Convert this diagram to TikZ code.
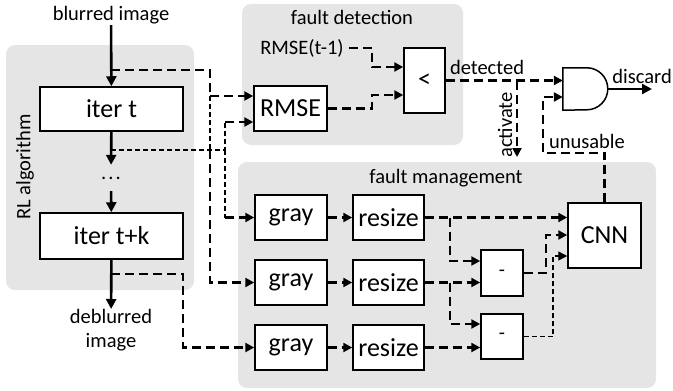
\documentclass[tikz,border=0pt]{standalone}
\usepackage{fontspec}
\setmainfont{Carlito}
\usetikzlibrary{arrows.meta}
\begin{document}
\begin{tikzpicture}[x=1pt,y=-1pt,
  panel/.style={fill=black!10, rounded corners=9pt},
  blk/.style={draw, line width=1.5pt, fill=white, inner sep=0pt,
    font=\fontsize{26}{30}\selectfont},
  lbl/.style={inner sep=1pt, font=\fontsize{20.5}{24}\selectfont},
  sarr/.style={line width=2.6pt, -{Triangle[length=10pt,width=10pt]}},
  dl/.style={line width=2.8pt, dash pattern=on 9pt off 5pt},
  da/.style={dl, -{Triangle[length=9pt,width=9pt]}},
  dthin/.style={line width=1.3pt, dash pattern=on 5pt off 3pt},
]
\useasboundingbox (0,0) rectangle (673,391);

% group panels
\fill[panel] (6,45) rectangle (194,290);
\fill[panel] (242,4) rectangle (463,145);
\fill[panel] (238,162) rectangle (656,388);

\node[lbl, rotate=90] (rl) at (25,167) {RL algorithm};
\node[lbl] (fd) at (352,17) {fault detection};
\node[lbl] (fm) at (446,178) {fault management};

% RL algorithm chain
\node[lbl] (blurred) at (111,15) {blurred image};
\node[blk, minimum width=143pt, minimum height=44pt] (itert) at (111.5,109) {iter t};
\node[lbl, minimum height=26pt, inner sep=0pt] (dots) at (111,178) {.\hspace{2pt}.\hspace{2pt}.};
\node[blk, minimum width=143pt, minimum height=46pt] (itertk) at (111.5,236) {iter t+k};
\node[lbl, align=center, anchor=north, inner sep=0pt] (deblurred) at (111,309) {deblurred\\image};

\draw[sarr] (blurred) -- (itert);
\draw[sarr] (itert) -- (dots);
\draw[sarr] (dots) -- (itertk);
\draw[sarr] (itertk) -- (deblurred);

% fault detection
\node[lbl, inner sep=5pt] (rmsep) at (302,48) {RMSE(t-1)};
\node[blk, minimum width=73pt, minimum height=45pt] (rmse) at (290.5,108.5) {RMSE};
\node[blk, minimum width=41pt, minimum height=65pt] (lt) at (424.5,80.5) {<};

\node[minimum width=45pt, minimum height=42pt, inner sep=0pt] (gate) at (585.5,89) {};
\draw[line width=1.5pt, fill=white] (gate.north west) -- ++(24,0)
  arc[start angle=90, end angle=-90, radius=21pt] -- (gate.south west) -- cycle;

\node[lbl] (detected) at (487,67) {detected};
\node[lbl, rotate=90] (activate) at (505,125) {activate};
\node[lbl, anchor=east, inner sep=0pt] (discard) at (672,76) {discard};
\node[lbl] (unusable) at (587,141) {unusable};

% fault management
\foreach \i/\y in {1/217.5, 2/282.5, 3/347.5} {
  \node[blk, minimum width=72pt, minimum height=45pt] (gray\i) at (291,\y) {gray};
  \node[blk, minimum width=71pt, minimum height=45pt] (resize\i) at (388.5,\y) {resize};
  \draw[da] (gray\i) -- (resize\i);
}
\node[blk, minimum width=42pt, minimum height=46pt, font=\fontsize{20}{24}\selectfont] (minus1) at (502,273) {-};
\node[blk, minimum width=42pt, minimum height=45pt, font=\fontsize{20}{24}\selectfont] (minus2) at (502,336.5) {-};
\node[blk, minimum width=73pt, minimum height=65pt] (cnn) at (604.5,235.5) {CNN};

% taps on the RL chain and free ends
\coordinate (a0) at (111,70);
\coordinate (b0) at (111,150);
\coordinate (c0) at (111,274);
\coordinate (det) at (517,80.5);
\coordinate (act) at (517,157);
\coordinate (out) at (652,89);

% input image tap
\draw[dl] (a0) -| (210,96);
\draw[dthin] (210,96) -- (210,150);
\draw[da] (210,150) |- (gray2.west);
\draw[da] (210,96) -- (rmse.west |- 0,96);

% iteration t tap
\draw[dthin] (b0) -| (225,122);
\draw[dthin] (225,150) -- (225,217.5);
\draw[da] (225,122) -- (rmse.west |- 0,122);
\draw[da] (225,217.5) -- (gray1.west);

% deblurred output tap
\draw[da] (c0) -| (183,347.5) -- (gray3.west);

% comparison
\draw[da] (rmsep.east) -| (372,67) -- (lt.west |- 0,67);
\draw[da] (rmse.east) -| (372,95) -- (lt.west |- 0,95);
\draw[da] (lt.east) -- (gate.west |- lt.east);
\draw[da] (det) -- (act);
\draw[sarr] (gate.east) -- (out);
\draw[da] (cnn.north) |- (543,153) |- ([yshift=-8pt]gate.west);

% resize outputs and differences
\draw[da] (resize1.east) -- (cnn.west |- resize1.east);
\draw[da] (450,217.5) |- (minus1.west |- 0,261);
\draw[da] (resize2.east) -- (minus1.west |- resize2.east);
\draw[da] (450,282.5) |- (minus2.west |- 0,324);
\draw[da] (resize3.east) -- (minus2.west |- resize3.east);
\draw[da] (minus1.east) -| (546,235) -- (cnn.west |- 0,235);
\draw[dthin, -{Triangle[length=9pt,width=9pt]}] (minus2.east) -| (553,256) -- (cnn.west |- 0,256);
\end{tikzpicture}
\end{document}
